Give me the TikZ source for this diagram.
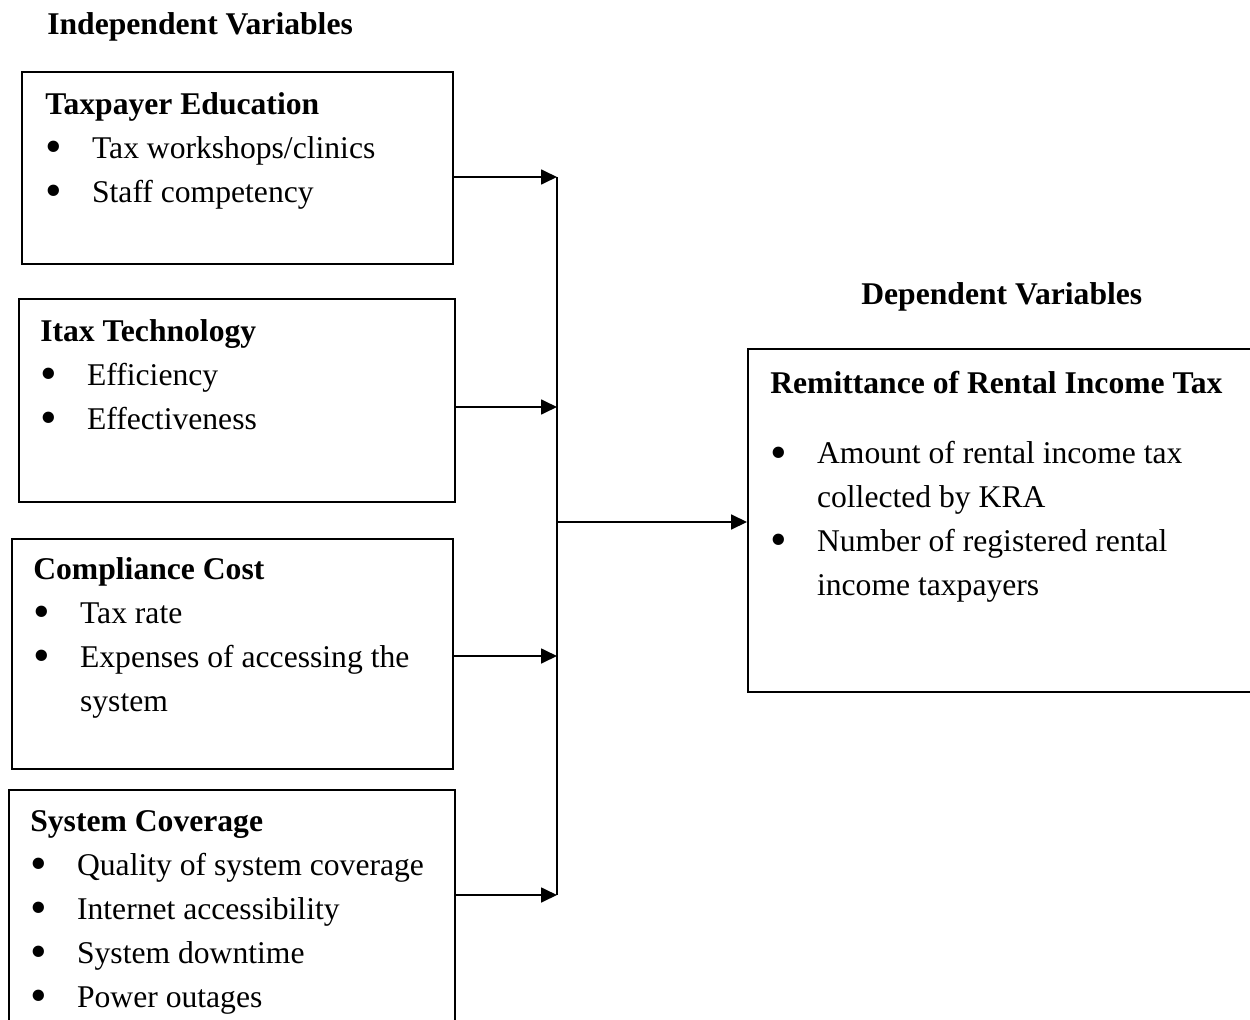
\documentclass[tikz,border=0pt]{standalone}
\usepackage{fontspec}
\usepackage{graphicx}
\setmainfont{Liberation Serif}
\usetikzlibrary{arrows.meta,fit,calc}

\begin{document}
\begin{tikzpicture}[x=0.02cm,y=-0.02cm,
  box/.style={draw=black,line width=1.1pt,inner sep=0pt},
  var/.style={anchor=north west,inner sep=0pt,align=left,font=\fontsize{18}{25}\selectfont},
  head/.style={var,anchor=base west},
  link/.style={line width=1.1pt},
  arr/.style={link,-{Triangle[length=9pt,width=8.4pt]}}]
\def\itm{\makebox[26.6pt][l]{\raisebox{-2.5pt}{\scalebox{1.5}{\textbullet}}}}
\def\cont{\hspace*{26.6pt}}
\clip (0,0) rectangle (1250,1020);
% headings
\node [head] (indep) at (47,35) {\textbf{Independent Variables}};
\node [head] (dep) at (861,305) {\textbf{Dependent Variables}};
% boxes
\node [box,fit={(22,72) (453,264)}] (edu) {};
\node [box,fit={(19,299) (455,502)}] (itax) {};
\node [box,fit={(12,539) (453,769)}] (cost) {};
\node [box,fit={(9,790) (455,1040)}] (cover) {};
\node [box,fit={(748,349) (1270,692)}] (remit) {};
% box texts
\node [var] (edu text) at (45,92.3) {\textbf{Taxpayer Education}\\\itm Tax workshops/clinics\\\itm Staff competency};
\node [var] (itax text) at (40,319.3) {\textbf{Itax Technology}\\\itm Efficiency\\\itm Effectiveness};
\node [var] (cost text) at (33,557.3) {\textbf{Compliance Cost}\\\itm Tax rate\\\itm Expenses of accessing the\\\cont system};
\node [var] (cover text) at (30,810.3) {\textbf{System Coverage}\\\itm Quality of system coverage\\\itm Internet accessibility\\\itm System downtime\\\itm Power outages};
\node [var] (remit text) at (770,371.3) {\textbf{Remittance of Rental Income Tax}\\[14.7pt]\itm Amount of rental income tax\\\cont collected by KRA\\\itm Number of registered rental\\\cont income taxpayers};
% joints
\coordinate (j1) at (557,177);
\coordinate (j2) at (557,407);
\coordinate (j3) at (557,656);
\coordinate (j4) at (557,895);
\coordinate (mid) at (557,522);
\foreach \src/\j in {edu/j1,itax/j2,cost/j3,cover/j4}
\draw [arr] (\src.east |- \j) -- (\j);
\draw [link] (j1) -- (j4);
\draw [arr] (mid) -- (remit.west |- mid);
\end{tikzpicture}
\end{document}
